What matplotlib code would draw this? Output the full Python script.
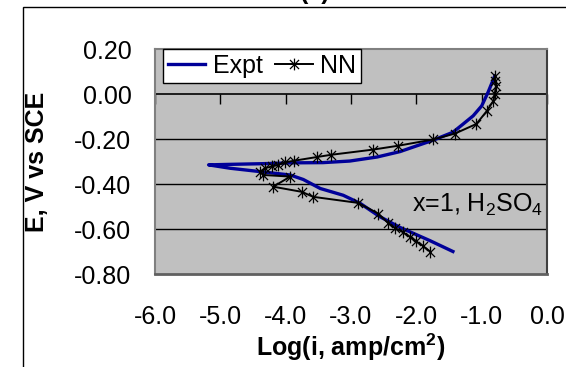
import numpy as np
import matplotlib
matplotlib.use("Agg")
import matplotlib.pyplot as plt
from matplotlib.path import Path
from matplotlib.patches import Rectangle

plt.rcParams['font.family'] = ['Liberation Sans', 'DejaVu Sans']
plt.rcParams['mathtext.default'] = 'regular'

# Expt curve: lower branch (right -> tip) then upper branch (tip -> right)
expt_x = [-1.44, -1.79, -2.25, -2.56, -2.86, -3.12, -3.47, -3.73, -3.93, -4.39,
          -4.85, -5.18, -4.90, -4.40, -3.89, -3.43, -3.02, -2.60, -2.25, -1.94,
          -1.74, -1.44, -1.29, -1.13, -1.00, -0.90, -0.80]
expt_y = [-0.700, -0.652, -0.593, -0.545, -0.486, -0.450, -0.420, -0.380, -0.360, -0.345,
          -0.330, -0.315, -0.313, -0.310, -0.306, -0.305, -0.298, -0.280, -0.256, -0.225,
          -0.205, -0.170, -0.135, -0.097, -0.053, 0.009, 0.080]

# NN curve: upper branch (right -> tip) then lower branch
nn_x = [-0.80, -0.80, -0.78, -0.80, -0.82, -0.92, -1.08, -1.41, -1.74, -2.28,
        -2.66, -3.30, -3.52, -3.88, -4.01, -4.11, -4.21, -4.32, -4.39, -4.34,
        -3.93, -4.19, -3.75, -3.58, -2.89, -2.58, -2.43, -2.33, -2.20, -2.10,
        -2.00, -1.90, -1.79]
nn_y = [0.082, 0.060, 0.035, 0.000, -0.030, -0.075, -0.133, -0.176, -0.202, -0.230,
        -0.247, -0.270, -0.280, -0.297, -0.304, -0.315, -0.322, -0.330, -0.345, -0.360,
        -0.367, -0.412, -0.435, -0.457, -0.484, -0.532, -0.574, -0.595, -0.615, -0.635,
        -0.655, -0.675, -0.700]

xticks = [-6, -5, -4, -3, -2, -1, 0]
yticks = [0.2, 0.0, -0.2, -0.4, -0.6, -0.8]

# excel-like star marker (x plus a vertical bar)
star = Path([(-1, -1), (1, 1), (-1, 1), (1, -1), (0, -1.3), (0, 1.3)],
            [Path.MOVETO, Path.LINETO, Path.MOVETO, Path.LINETO, Path.MOVETO, Path.LINETO])

fig = plt.figure(figsize=(5.66, 3.67), dpi=100)
ax = fig.add_axes([155/566, 1 - 274/367, 392/566, 225/367])
ax.set_facecolor('#c0c0c0')

for g in [-0.2, -0.4, -0.6]:
    ax.axhline(g, color='black', lw=1.0, zorder=1)
# x axis line crosses at E = 0
ax.axhline(0.0, color='black', lw=1.2, zorder=1)

ax.plot(expt_x, expt_y, color='#000099', lw=2.4, label='Expt', zorder=3)
ax.plot(nn_x, nn_y, color='black', lw=1.4, marker=star, markersize=8.5,
        markeredgewidth=0.9, label='NN', zorder=4)

ax.set_xlim(-6, 0)
ax.set_ylim(-0.8, 0.2)
ax.set_xticks(xticks)
ax.set_xticklabels(['%.1f' % v for v in xticks])
ax.set_yticks(yticks)
ax.set_yticklabels(['%.2f' % v for v in yticks])
ax.tick_params(axis='x', length=0, pad=22, labelsize=18)
ax.tick_params(axis='y', length=0, pad=17, labelsize=18)

for side in ['top', 'left', 'bottom']:
    ax.spines[side].set_color('#808080')
    ax.spines[side].set_linewidth(1.5)
ax.spines['right'].set_color('#404040')
ax.spines['right'].set_linewidth(1.5)
ax.spines['bottom'].set_color('#606060')
ax.spines['bottom'].set_linewidth(2)

# tick marks on the axis at E = 0
sec = ax.secondary_xaxis(0.8)
sec.set_xticks(xticks)
sec.xaxis.set_ticks_position('bottom')
sec.tick_params(axis='x', direction='out', length=7, width=1, color='black',
                labelbottom=False, labeltop=False)
for side in ['top', 'left', 'right', 'bottom']:
    sec.spines[side].set_visible(False)

ax.set_xlabel('Log(i, amp/cm$^2$)', fontsize=18, fontweight='bold')
ax.xaxis.set_label_coords(0.5, -0.255)
ax.set_ylabel('E, V vs SCE', fontsize=18, fontweight='bold')
ax.yaxis.set_label_coords(-0.27, 0.5)

ax.text(0.99, 0.307, 'x=1, H$_2$SO$_4$', transform=ax.transAxes,
        ha='right', va='center', fontsize=18)

leg = ax.legend(loc='upper left', bbox_to_anchor=(0.02, 1.0), ncol=2,
                fontsize=18, frameon=True, fancybox=False, borderaxespad=0,
                handlelength=1.5, handletextpad=0.3, columnspacing=0.5,
                borderpad=0.2)
leg.get_frame().set_edgecolor('black')
leg.get_frame().set_linewidth(1)
leg.get_frame().set_alpha(1)

# chart frame (cropped) and title
fig.patches.append(Rectangle((23/566, -0.1), 1.1, 1.1 - 6.5/367, transform=fig.transFigure,
                             fill=False, edgecolor='black', lw=1))
fig.text(0.556, 1.004, '(a)', ha='center', va='baseline', fontsize=18, fontweight='bold')

fig.savefig('out.png', dpi=100)
